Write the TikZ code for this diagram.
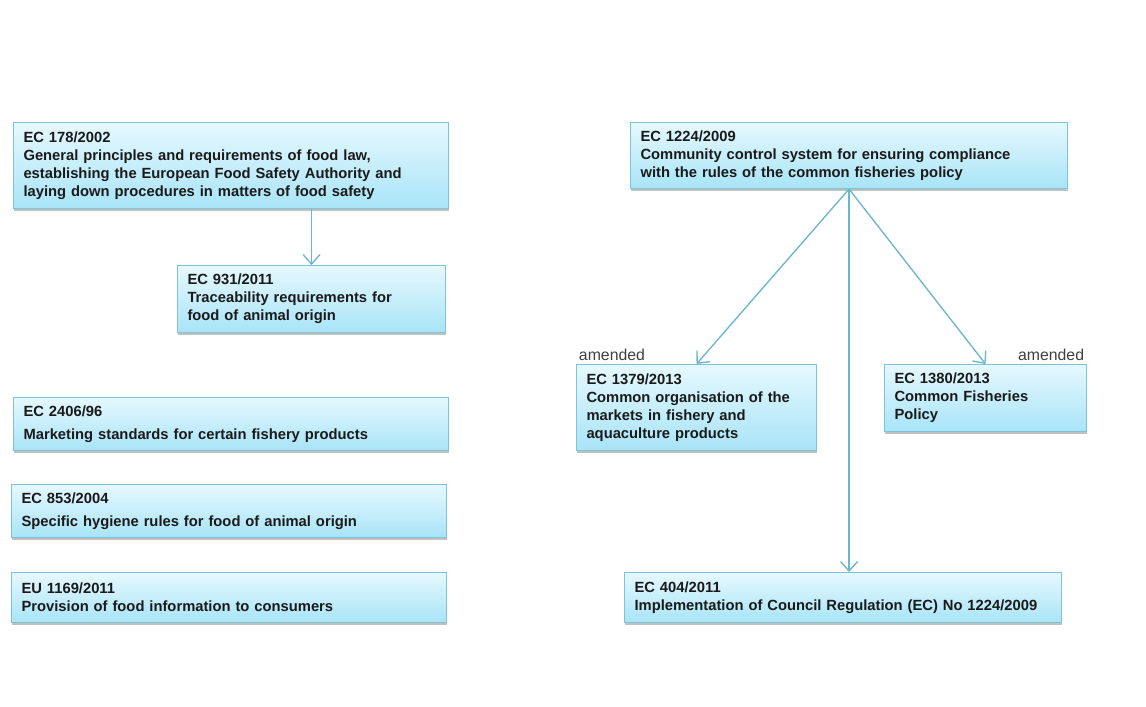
\documentclass[tikz,border=0pt]{standalone}
\usepackage{fontspec}
\setmainfont{Liberation Sans}
\usetikzlibrary{arrows.meta,positioning,shadows}
\definecolor{boxtop}{HTML}{E6F8FE}
\definecolor{boxbot}{HTML}{A8E4F7}
\definecolor{boxline}{HTML}{7CC4DA}
\definecolor{link}{HTML}{6AB6CE}
\definecolor{ink}{HTML}{1A1A1A}
\definecolor{note}{HTML}{404040}
\tikzset{
  regbox/.style={draw=boxline, top color=boxtop, bottom color=boxbot, line width=0.6pt,
                 align=left, anchor=north west, inner xsep=2mm, inner ysep=1mm,
                 text=ink, font=\bfseries\fontsize{8.4}{10.2}\selectfont,
                 drop shadow={shadow xshift=0.4pt, shadow yshift=-1.2pt, opacity=0.35, fill=black!70}},
  arrow/.style={-{Straight Barb[length=1.9mm,width=3.4mm]}, line width=0.75pt, draw=link},
  amend/.style={font=\fontsize{9}{10}\selectfont, text=note, inner sep=1.5pt}
}
\begin{document}
\begin{tikzpicture}[x=0.2mm,y=-0.2mm]
  \useasboundingbox[fill=white] (0,0) rectangle (1146,707);

  % food law column
  \node[regbox, text width=83mm, minimum height=17.2mm] (foodlaw) at (13,122)
    {EC 178/2002\\General principles and requirements of food law,\\establishing the European Food Safety Authority and\\laying down procedures in matters of food safety};
  \node[regbox, text width=49.6mm, minimum height=13.4mm] (trace) at (177,265)
    {EC 931/2011\\Traceability requirements for\\food of animal origin};
  \node[regbox, text width=83mm, minimum height=10.6mm] (market) at (13,397)
    {EC 2406/96\\[3pt]Marketing standards for certain fishery products};
  \node[regbox, text width=83mm, minimum height=10.6mm] (hygiene) at (11,484)
    {EC 853/2004\\[3pt]Specific hygiene rules for food of animal origin};
  \node[regbox, text width=83mm, minimum height=10mm] (info) at (11,572)
    {EU 1169/2011\\Provision of food information to consumers};

  % fisheries control column
  \node[regbox, text width=83.4mm, minimum height=13.2mm] (control) at (630,122)
    {EC 1224/2009\\Community control system for ensuring compliance\\with the rules of the common fisheries policy};
  \node[regbox, text width=44mm, minimum height=17.2mm] (cmo) at (576,364)
    {EC 1379/2013\\Common organisation of the\\markets in fishery and\\aquaculture products};
  \node[regbox, text width=36.4mm, minimum height=13.4mm] (cfp) at (884,364)
    {EC 1380/2013\\Common Fisheries\\Policy};
  \node[regbox, text width=83.4mm, minimum height=10mm] (impl) at (624,572)
    {EC 404/2011\\Implementation of Council Regulation (EC) No 1224/2009};

  \node[amend, anchor=south west] (amcmo) at (cmo.north west) {amended};
  \node[amend, anchor=south east] (amcfp) at (cfp.north east) {amended};

  % links
  \draw[arrow] (foodlaw.south -| trace.north) -- (trace.north);
  \draw[arrow] (control.south) -- (cmo.north);
  \draw[arrow] (control.south) -- (cfp.north);
  \draw[arrow] (control.south) -- (control.south |- impl.north);
\end{tikzpicture}
\end{document}
